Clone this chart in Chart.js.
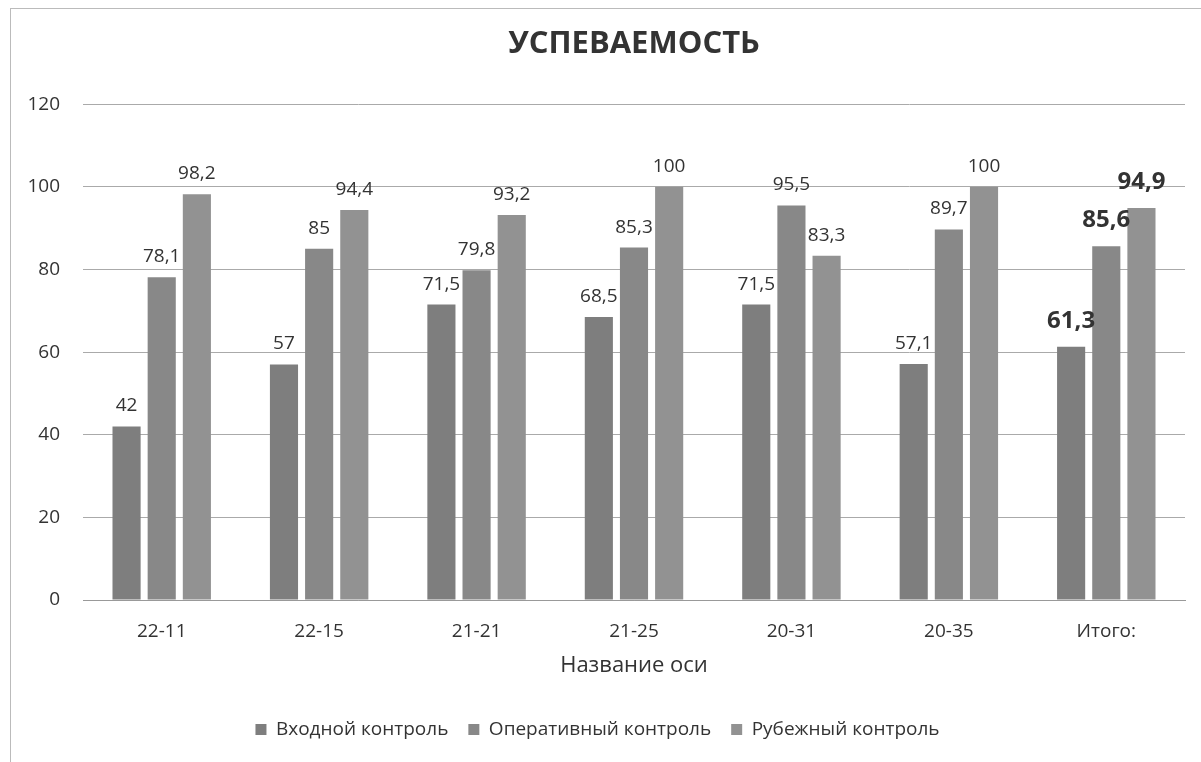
<!DOCTYPE html>
<html>
<head>
<meta charset="utf-8">
<script src="https://cdn.jsdelivr.net/npm/chart.js@4.4.1/dist/chart.umd.min.js"></script>
<style>
  html, body { margin: 0; padding: 0; background: #fff; }
  #wrap { position: absolute; left: 0; top: 0; width: 1201px; height: 762px; }
  #frame { position: absolute; left: 10px; top: 8px; width: 1200px; height: 760px; border-left: 1px solid #bbb; border-top: 1px solid #bbb; pointer-events: none; }
</style>
</head>
<body>
<div id="wrap">
  <canvas id="c" width="1201" height="762"></canvas>
  <div id="frame"></div>
</div>
<script>
const categories = ['22-11', '22-15', '21-21', '21-25', '20-31', '20-35', 'Итого:'];
const seriesNames = ['Входной контроль', 'Оперативный контроль', 'Рубежный контроль'];
const vhodnoy = [42, 57, 71.5, 68.5, 71.5, 57.1, 61.3];
const operativny = [78.1, 85, 79.8, 85.3, 95.5, 89.7, 85.6];
const rubezhny = [98.2, 94.4, 93.2, 100, 83.3, 100, 94.9];
const yTicks = [0, 20, 40, 60, 80, 100, 120];
const colors = ['#7e7e7e', '#888888', '#929292'];

const FONT = "'Open Sans', 'Noto Sans', 'DejaVu Sans', sans-serif";

const valueLabels = {
  id: 'valueLabels',
  afterDatasetsDraw(chart) {
    const ctx = chart.ctx;
    ctx.save();
    ctx.textAlign = 'center';
    ctx.textBaseline = 'alphabetic';
    chart.data.datasets.forEach((ds, di) => {
      const meta = chart.getDatasetMeta(di);
      meta.data.forEach((bar, i) => {
        const last = i === ds.data.length - 1;
        ctx.fillStyle = '#333';
        ctx.font = (last ? 'bold 24px ' : '19px ') + FONT;
        const txt = String(ds.data[i]).replace('.', ',');
        ctx.fillText(txt, bar.x, bar.y - (last ? 19 : 15));
      });
    });
    ctx.restore();
  }
};

new Chart(document.getElementById('c'), {
  type: 'bar',
  data: {
    labels: categories,
    datasets: [
      { label: seriesNames[0], data: vhodnoy, backgroundColor: colors[0] },
      { label: seriesNames[1], data: operativny, backgroundColor: colors[1] },
      { label: seriesNames[2], data: rubezhny, backgroundColor: colors[2] }
    ]
  },
  options: {
    responsive: false,
    animation: false,
    devicePixelRatio: 1,
    categoryPercentage: 0.67,
    barPercentage: 0.8,
    layout: { padding: { left: 10, right: 16, top: 0, bottom: 13 } },
    plugins: {
      title: {
        display: true,
        fullSize: false,
        text: 'УСПЕВАЕМОСТЬ',
        color: '#333',
        font: { family: FONT, size: 31, weight: 'bold' },
        padding: { top: 26, bottom: 41 }
      },
      legend: {
        position: 'bottom',
        labels: {
          color: '#333',
          font: { family: FONT, size: 19 },
          boxWidth: 11,
          boxHeight: 11,
          padding: 20
        }
      },
      tooltip: { enabled: false }
    },
    scales: {
      x: {
        grid: { display: false, drawTicks: false },
        border: { display: true, color: '#999' },
        ticks: { color: '#333', font: { family: FONT, size: 19 }, padding: 20 },
        title: {
          display: true,
          text: 'Название оси',
          color: '#333',
          font: { family: FONT, size: 22 },
          padding: { top: 8, bottom: 21 }
        },
        afterFit(scale) { scale.height = 100; }
      },
      y: {
        min: 0,
        max: 120,
        afterBuildTicks(scale) { scale.ticks = yTicks.map(v => ({ value: v })); },
        grid: { color: '#aaa', drawTicks: false },
        border: { display: false },
        ticks: { color: '#333', font: { family: FONT, size: 19 }, padding: 23 },
        afterFit(scale) { scale.width = 73; }
      }
    }
  },
  plugins: [valueLabels]
});
</script>
</body>
</html>
